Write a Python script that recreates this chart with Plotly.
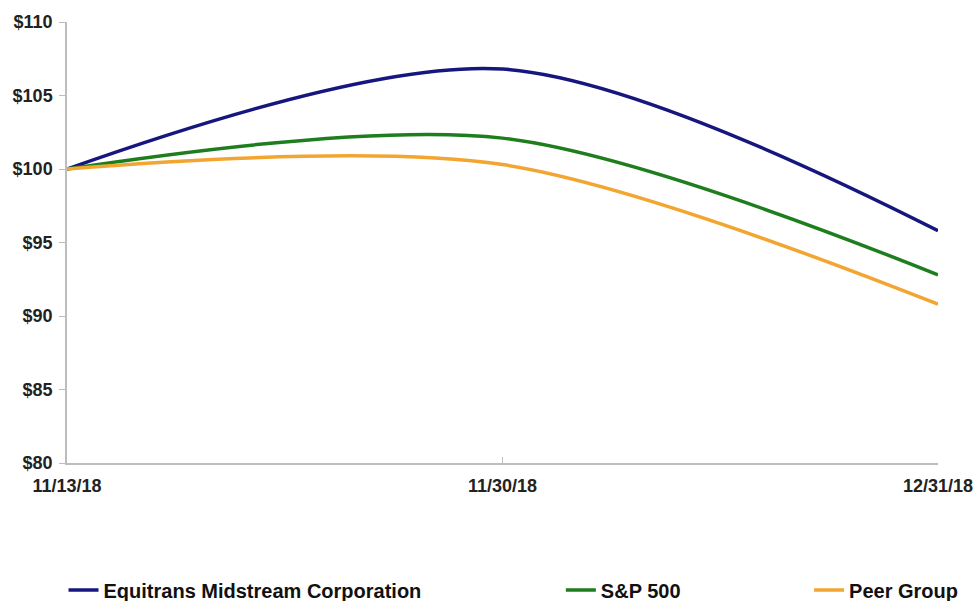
import plotly.graph_objects as go

dates = ["11/13/18", "11/30/18", "12/31/18"]
equitrans = [100.0, 106.8, 95.8]
sp500 = [100.0, 102.1, 92.8]
peer = [100.0, 100.3, 90.8]

series_names = ["Equitrans Midstream Corporation", "S&P 500", "Peer Group"]
colors = ["#16167F", "#1E7E1E", "#F2A531"]
y_ticks = [80, 85, 90, 95, 100, 105, 110]
y_labels = ["$" + str(v) for v in y_ticks]

fig = go.Figure()
legend_ids = ["legend", "legend2", "legend3"]
for name, vals, col, lg in zip(series_names, [equitrans, sp500, peer], colors, legend_ids):
    fig.add_trace(go.Scatter(
        x=dates, y=vals, mode="lines", name=name,
        line=dict(color=col, width=3.5, shape="spline", smoothing=0.9),
        legend=lg,
    ))

font_family = "Liberation Sans, Arial, sans-serif"
leg_common = dict(orientation="h", yanchor="middle", xanchor="left",
                  yref="container", y=1 - 590 / 601,
                  font=dict(family=font_family, size=20, color="#111111", weight="bold"),
                  bgcolor="rgba(0,0,0,0)", itemwidth=30, tracegroupgap=0)

fig.update_layout(
    width=977, height=601,
    margin=dict(l=67, r=39, t=22, b=138),
    plot_bgcolor="white", paper_bgcolor="white",
    showlegend=True,
    legend=dict(x=-0.004, **leg_common),
    legend2=dict(x=0.567, **leg_common),
    legend3=dict(x=0.852, **leg_common),
    xaxis=dict(
        type="category", range=[0, 2], showgrid=False, automargin=False,
        showline=True, linecolor="#BDBDBD", linewidth=1.5,
        ticks="inside", ticklen=6, tickcolor="#BDBDBD",
        ticklabelstandoff=6,
        tickfont=dict(family=font_family, size=18, color="#222222", weight="bold"),
        zeroline=False,
    ),
    yaxis=dict(
        range=[80, 110], tickvals=y_ticks, ticktext=y_labels, automargin=False,
        showgrid=False, showline=True, linecolor="#BDBDBD", linewidth=1.5,
        ticks="outside", ticklen=6, tickcolor="#BDBDBD",
        ticklabelstandoff=3,
        tickfont=dict(family=font_family, size=18, color="#222222", weight="bold"),
        zeroline=False,
    ),
)

fig.write_html("out.html")
